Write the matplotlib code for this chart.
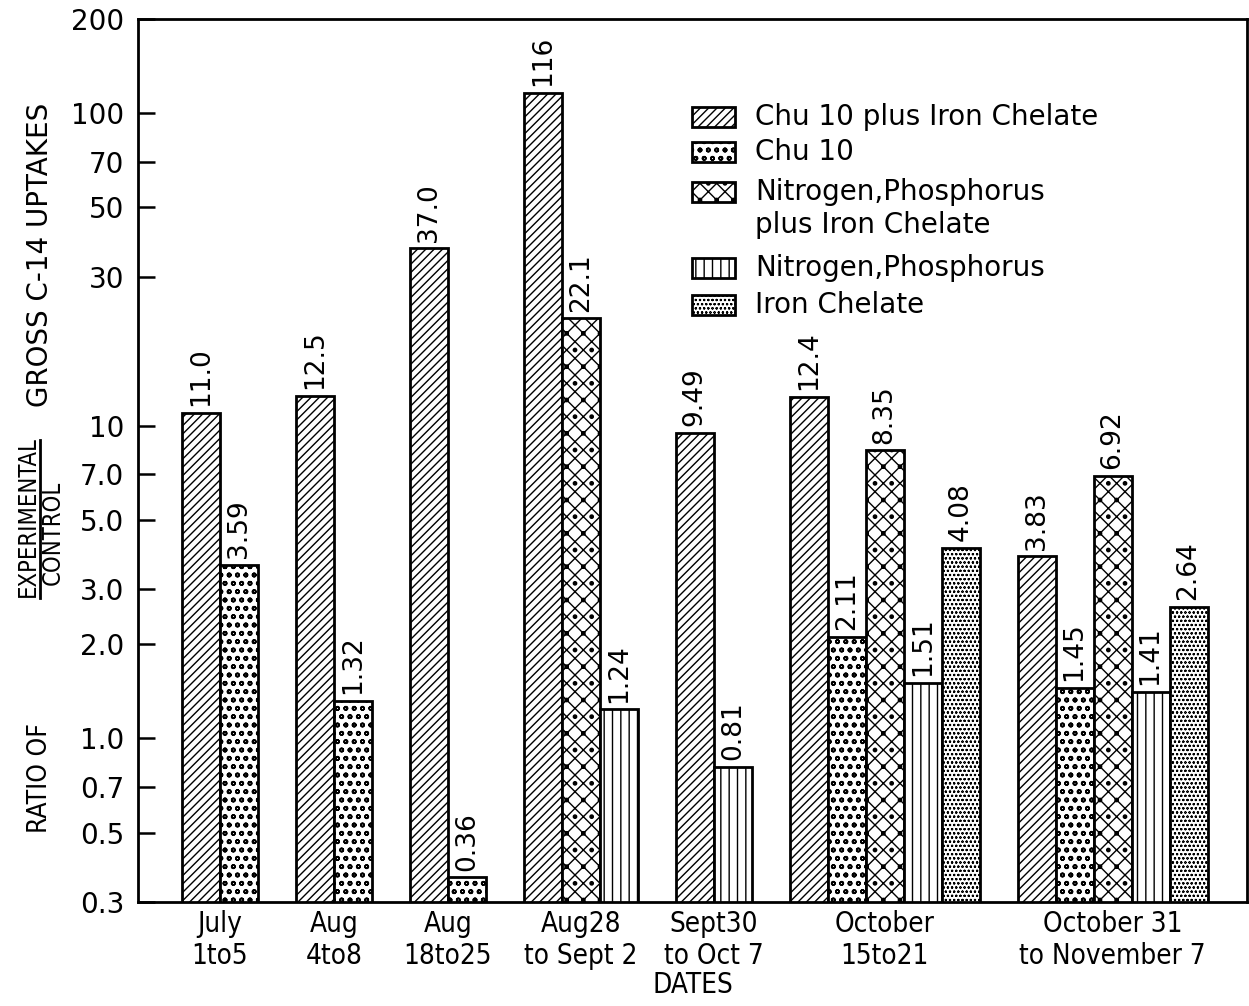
import math
import matplotlib
matplotlib.use("Agg")
from matplotlib import pyplot as plt
from matplotlib.patches import Rectangle
from matplotlib.lines import Line2D

plt.rcParams['font.family'] = ['DejaVu Sans']
plt.rcParams['hatch.linewidth'] = 1.0

fechas = ["July\n1to5", "Aug\n4to8", "Aug\n18to25", "Aug28\nto Sept 2",
          "Sept30\nto Oct 7", "October\n15to21", "October 31\nto November 7"]

chu10_fe = [11.0, 12.5, 37.0, 116, 9.49, 12.4, 3.83]
chu10 = [3.59, 1.32, 0.36, None, None, 2.11, 1.45]
np_fe = [None, None, None, 22.1, None, 8.35, 6.92]
np_only = [None, None, None, 1.24, 0.81, 1.51, 1.41]
hierro = [None, None, None, None, None, 4.08, 2.64]

series = [chu10_fe, chu10, np_fe, np_only, hierro]
nombres = ["Chu 10 plus Iron Chelate", "Chu 10",
           "Nitrogen,Phosphorus\nplus Iron Chelate",
           "Nitrogen,Phosphorus", "Iron Chelate"]
tramas = ["////", "oo", "xx.", "||", "oooo"]
grosor_trama = [1.0, 1.2, 1.0, 1.0, 0.5]

yticks = [0.3, 0.5, 0.7, 1.0, 2.0, 3.0, 5.0, 7.0, 10, 30, 50, 70, 100, 200]
ytick_lbl = ["0.3", "0.5", "0.7", "1.0", "2.0", "3.0", "5.0", "7.0",
             "10", "30", "50", "70", "100", "200"]


def etiqueta(v):
    p = min(2, max(0, 2 - math.floor(math.log10(v))))
    return f"{v:.{p}f}"


def trama_lw(p, lw):
    try:
        p.set_hatch_linewidth(lw)
    except AttributeError:
        pass


W, H = 1249, 1006
fig = plt.figure(figsize=(W / 100, H / 100), dpi=100)
ax = fig.add_axes([0.1105, 0.1034, 0.8879, 0.8777])
ax.set_yscale("log")

fs = 19
x = 1.16
centros = []
for g in range(len(fechas)):
    x0 = x
    for s, vals in enumerate(series):
        v = vals[g]
        if v is None:
            continue
        b = ax.bar(x, v, width=1.0, align="edge", color="white", edgecolor="black",
                   linewidth=2, hatch=tramas[s], zorder=2)
        trama_lw(b[0], grosor_trama[s])
        ax.text(x + 0.5, v * 1.05, etiqueta(v), rotation=90, ha="center",
                va="bottom", fontsize=fs)
        x += 1
    centros.append((x0 + x) / 2)
    x += 1

ax.set_xlim(0, 29.2)
ax.set_ylim(0.3, 200)
ax.set_yticks(yticks)
ax.set_yticklabels(ytick_lbl, fontsize=20)
ax.yaxis.set_minor_locator(matplotlib.ticker.NullLocator())
ax.tick_params(axis="y", direction="in", length=12, width=1.8, pad=10)
ax.set_xticks(centros)
ax.set_xticklabels(fechas, fontsize=20, stretch="condensed", linespacing=1.15)
ax.tick_params(axis="x", length=0, pad=6)
ax.set_xlabel("DATES", fontsize=20, stretch="condensed", labelpad=1)
for sp in ax.spines.values():
    sp.set_linewidth(2)

# leyenda dibujada a mano (la caja va alineada con la primera linea)
ley_y = [117, 152, 192, 268, 305]
for s in range(len(series)):
    yc = ley_y[s]
    r = Rectangle((692 / W, 1 - (yc + 10) / H), 43 / W, 20 / H,
                  transform=fig.transFigure, facecolor="white",
                  edgecolor="black", linewidth=2, hatch=tramas[s])
    trama_lw(r, grosor_trama[s])
    fig.add_artist(r)
    for i, linea in enumerate(nombres[s].split("\n")):
        fig.text(755 / W, 1 - (yc + 33 * i) / H, linea, fontsize=20,
                 ha="left", va="center")

# etiqueta del eje y: RATIO OF  EXPERIMENTAL / CONTROL  GROSS C-14 UPTAKES
yk = dict(rotation=90, stretch="condensed", ha="center", va="center")
fig.text(40 / W, 1 - 778 / H, "RATIO OF", fontsize=19, **yk)
fig.text(28 / W, 1 - 517 / H, "EXPERIMENTAL", fontsize=17, **yk)
fig.text(53 / W, 1 - 533 / H, "CONTROL", fontsize=17, **yk)
fig.text(40 / W, 1 - 255 / H, "GROSS C-14 UPTAKES", fontsize=20,
         rotation=90, ha="center", va="center")
fig.add_artist(Line2D([40 / W, 40 / W], [1 - 440 / H, 1 - 598 / H],
                      color="black", linewidth=2))

fig.savefig("out.png", dpi=100)
